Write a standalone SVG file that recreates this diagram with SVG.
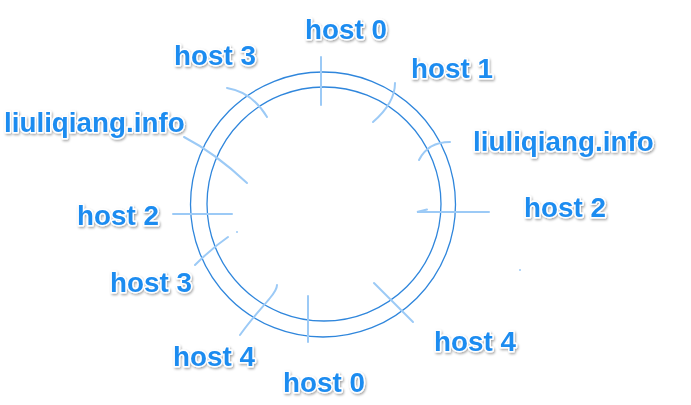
<svg xmlns="http://www.w3.org/2000/svg" width="691" height="405" viewBox="0 0 691 405">
<defs>
<filter id="sh" x="-10%" y="-30%" width="120%" height="160%">
<feDropShadow dx="1" dy="1.5" stdDeviation="1" flood-color="#000" flood-opacity="0.35"/>
</filter>
</defs>
<style>
.ring{fill:none;stroke:#2f86dc;stroke-width:1.3}
.tick{fill:none;stroke:#9ccaf6;stroke-width:2;stroke-linecap:round}
.lbl{font-family:"Liberation Sans",Arial,sans-serif;font-weight:bold;font-size:27.8px;fill:#1f8cf0;stroke:#fff;stroke-width:3;paint-order:stroke;stroke-linejoin:round;filter:url(#sh)}
</style>
<rect width="691" height="405" fill="#fff"/>
<g id="ring">
<circle class="ring" cx="323" cy="204.5" r="132.5"/>
<circle class="ring" cx="324" cy="204" r="117"/>
</g>
<g id="connectors">
<path class="tick" d="M321,57 L321,105"/>
<path class="tick" d="M227,88 Q252,92 267,117"/>
<path class="tick" d="M395,83 Q395,103 373,122"/>
<path class="tick" d="M450,142 Q428,142 419,160"/>
<path class="tick" d="M184,137 Q215,153 247,183"/>
<path class="tick" d="M173,214 L232,214"/>
<path class="tick" d="M489,212 L417,212 L427,209.5"/>
<path class="tick" d="M195,265 Q212,248 228,237"/>
<path class="tick" d="M240,335 C252,318 262,308 270,298 C275,292 277,288 277,285"/>
<path class="tick" d="M308,296 L308,342"/>
<path class="tick" d="M374,283 L413,322"/>
<circle cx="237" cy="232" r="1" fill="#9ccaf6"/>
<circle cx="520" cy="270" r="1" fill="#9ccaf6"/>
</g>
<g id="n-host0-top"><text class="lbl" x="305" y="39">host 0</text></g>
<g id="n-host3-top"><text class="lbl" x="174" y="65">host 3</text></g>
<g id="n-host1"><text class="lbl" x="411" y="78">host 1</text></g>
<g id="n-liuli-left"><text class="lbl" x="4" y="132">liuliqiang.info</text></g>
<g id="n-liuli-right"><text class="lbl" x="473" y="151">liuliqiang.info</text></g>
<g id="n-host2-left"><text class="lbl" x="77" y="225">host 2</text></g>
<g id="n-host2-right"><text class="lbl" x="524" y="217">host 2</text></g>
<g id="n-host3-low"><text class="lbl" x="110" y="292">host 3</text></g>
<g id="n-host4-left"><text class="lbl" x="173" y="366">host 4</text></g>
<g id="n-host0-bottom"><text class="lbl" x="283" y="392">host 0</text></g>
<g id="n-host4-right"><text class="lbl" x="434" y="351">host 4</text></g>
</svg>
